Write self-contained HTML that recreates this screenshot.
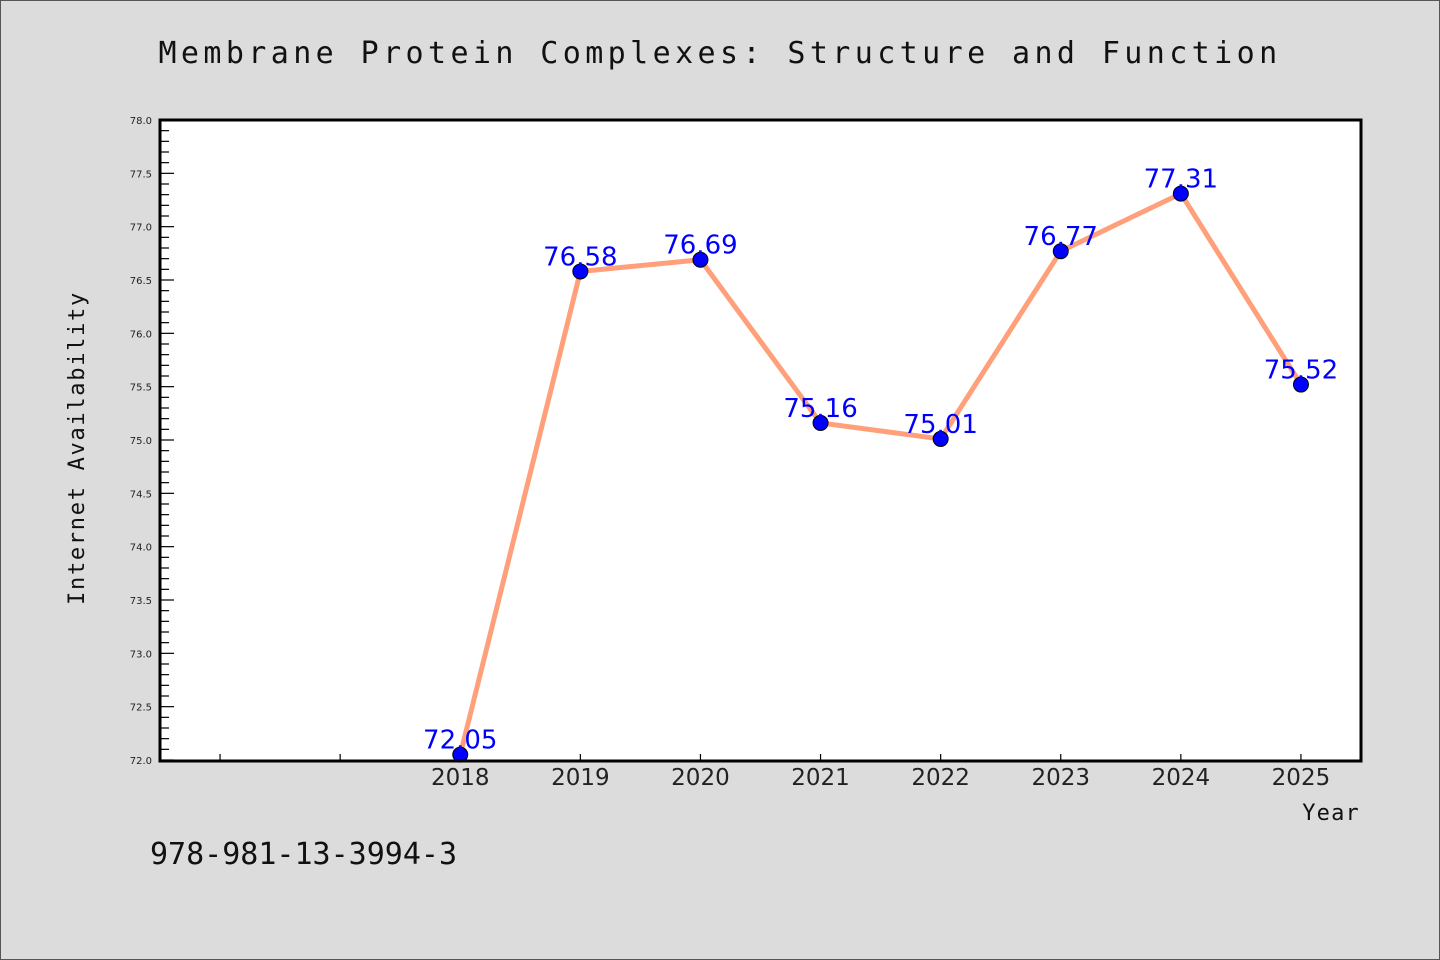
<!DOCTYPE html>
<html><head><meta charset="utf-8"><style>
html,body{margin:0;padding:0;background:#dcdcdc;}
svg{display:block;}
</style></head><body>
<svg width="1440" height="960" xmlns="http://www.w3.org/2000/svg">
<rect x="0.5" y="0.5" width="1439" height="959" fill="#dcdcdc" stroke="#555"/>
<text x="720" y="63" text-anchor="middle" font-family="DejaVu Sans Mono, monospace" font-size="30" letter-spacing="4.4" fill="#111">Membrane Protein Complexes: Structure and Function</text>
<rect x="160" y="120" width="1201" height="641" fill="#fff"/>
<g id="axes"></g>
<g id="series"></g>
<rect x="160" y="120" width="1201" height="641" fill="none" stroke="#000" stroke-width="3"/>
<text transform="translate(84,448) rotate(-90)" text-anchor="middle" font-family="DejaVu Sans Mono, monospace" font-size="22" letter-spacing="1.7" fill="#111">Internet Availability</text>
<text x="1360" y="820" text-anchor="end" font-family="DejaVu Sans Mono, monospace" font-size="22" letter-spacing="1.2" fill="#111">Year</text>
<text x="150" y="864" font-family="DejaVu Sans Mono, monospace" font-size="30" fill="#111">978-981-13-3994-3</text>
</svg>
<script>
const years = [2018, 2019, 2020, 2021, 2022, 2023, 2024, 2025];
const values = [72.05, 76.58, 76.69, 75.16, 75.01, 76.77, 77.31, 75.52];
const yTickLabels = ["72.0","72.5","73.0","73.5","74.0","74.5","75.0","75.5","76.0","76.5","77.0","77.5","78.0"];
const extraXTicks = [2016, 2017];
const NS = "http://www.w3.org/2000/svg";
const X0 = 160, X1 = 1361, Y0 = 760, Y1 = 120;
const xMin = 2015.5, xMax = 2025.5, yMin = 72, yMax = 78;
function xs(v){ return X0 + (v - xMin) / (xMax - xMin) * (X1 - X0); }
function ys(v){ return Y0 - (v - yMin) / (yMax - yMin) * (Y0 - Y1); }
function mk(tag, attrs, parent){ const e = document.createElementNS(NS, tag); for (const k in attrs) e.setAttribute(k, attrs[k]); parent.appendChild(e); return e; }
const axes = document.getElementById('axes');
const series = document.getElementById('series');
// y minor ticks
for (let i = 0; i <= 60; i++) {
  const v = yMin + i * 0.1; const y = ys(v); const major = i % 5 === 0;
  const t = mk('line', {x1: X0, x2: X0 + (major ? 14 : 9), y1: y, y2: y, stroke: '#000', 'stroke-width': 1.2}, axes);
  
  
}
yTickLabels.forEach(l => {
  const t = mk('text', {x: 152, y: ys(parseFloat(l)) + 4, 'text-anchor': 'end', 'font-family': 'DejaVu Sans, sans-serif', 'font-size': 10, fill: '#222'}, axes);
  t.textContent = l;
  
  
});
extraXTicks.concat(years).forEach(yv => {
  const t = mk('line', {x1: xs(yv), x2: xs(yv), y1: Y0, y2: Y0 - 6, stroke: '#000', 'stroke-width': 1.2}, axes);
  
  
});
years.forEach(yv => {
  const t = mk('text', {x: xs(yv), y: 785, 'text-anchor': 'middle', 'font-family': 'DejaVu Sans, sans-serif', 'font-size': 23, fill: '#222'}, axes);
  t.textContent = String(yv);
  
  
});
const pts = years.map((yv, i) => xs(yv) + ',' + ys(values[i])).join(' ');
const line = mk('polyline', {points: pts, fill: 'none', stroke: '#FFA07A', 'stroke-width': 5, 'stroke-linejoin': 'round'}, series);


years.forEach((yv, i) => {
  const c = mk('circle', {cx: xs(yv), cy: ys(values[i]), r: 7.5, fill: '#0000ff', stroke: '#000', 'stroke-width': 1}, series);
  
  
});
years.forEach((yv, i) => {
  const t = mk('text', {x: xs(yv), y: ys(values[i]) - 6, 'text-anchor': 'middle', 'font-family': 'DejaVu Sans, sans-serif', 'font-size': 26, fill: '#0000ff'}, series);
  t.textContent = values[i].toFixed(2);
  
  
});
</script>
</body></html>
